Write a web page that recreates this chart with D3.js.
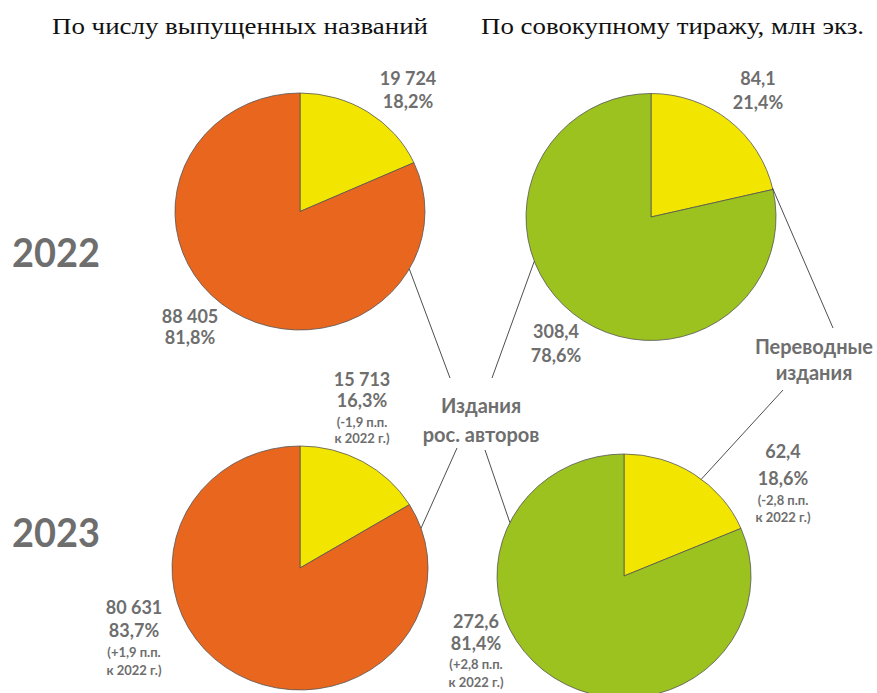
<!DOCTYPE html>
<html>
<head>
<meta charset="utf-8">
<script src="https://cdn.jsdelivr.net/npm/d3@7"></script>
<style>
  body { margin: 0; background: #fff; }
  svg { display: block; }
  .ttl { font-family: "Liberation Serif", "DejaVu Serif", serif; font-size: 24px; fill: #111; }
  .lbl { font-family: Lato, "Open Sans", sans-serif; font-weight: bold; fill: #6e6e6e; }
</style>
</head>
<body>
<script>
// data
const years = ["2022", "2023"];
const titlesRus = [88405, 80631];      // число названий, рос. авторы
const titlesTransl = [19724, 15713];   // число названий, переводные
const printRus = [308.4, 272.6];       // тираж, млн экз., рос. авторы
const printTransl = [84.1, 62.4];      // тираж, млн экз., переводные
const colTitles = ["По числу выпущенных названий", "По совокупному тиражу, млн экз."];
const catLabels = [["Издания", "рос. авторов"], ["Переводные", "издания"]];

init();

function init() {
  let width = 877, height = 693;

  let svg = d3.select("body")
              .append("svg")
              .attr("id", "chart")
              .attr("width", width)
              .attr("height", height);

  let fmtInt = (v) => d3.format(",")(v).replace(/,/g, " ");
  let fmtDec = (v) => d3.format(".1f")(v).replace(".", ",");
  let pct = (a, b) => Math.round(a / (a + b) * 1000) / 10;

  // pie geometry per panel [row][col]
  let geo = [
    [{cx: 300, cy: 211.5, rx: 125, ry: 118.5}, {cx: 651, cy: 217, rx: 125, ry: 123.5}],
    [{cx: 300, cy: 568, rx: 128, ry: 122}, {cx: 624, cy: 576, rx: 127, ry: 122}]
  ];
  let colors = [["#f2e500", "#e8661e"], ["#f2e500", "#9bc21e"]];

  let pie = d3.pie().sort(null).value(d => d);
  let arc = d3.arc().innerRadius(0).outerRadius(1);

  // point on pie edge for leader lines
  let edge = (g, deg) => {
    let a = deg * Math.PI / 180;
    return [g.cx + Math.sin(a) * g.rx, g.cy - Math.cos(a) * g.ry];
  };

  years.forEach((y, r) => {
    let sets = [[titlesTransl[r], titlesRus[r]], [printTransl[r], printRus[r]]];
    sets.forEach((vals, c) => {
      let g = geo[r][c];
      let gp = svg.append("g")
                  .attr("transform", `translate(${g.cx},${g.cy}) scale(${g.rx},${g.ry})`);
      gp.selectAll("path")
        .data(pie(vals))
        .enter()
        .append("path")
        .attr("d", arc)
        .attr("fill", (d, i) => colors[c][i])
        .attr("stroke", "#555")
        .attr("stroke-width", 0.8)
        .attr("vector-effect", "non-scaling-stroke");
    });
  });

  // leader lines: [row, col, angle on edge, end x, end y]
  let leaders = [
    [0, 0, 119, 450, 378],
    [0, 1, 249, 492, 378],
    [1, 0, 71, 457, 448],
    [1, 1, 296, 485, 450],
    [0, 1, 76.5, 833, 328],
    [1, 1, 37.5, 783, 390]
  ];
  svg.selectAll(".leader")
     .data(leaders)
     .enter()
     .append("line")
     .attr("class", "leader")
     .attr("x1", d => edge(geo[d[0]][d[1]], d[2])[0])
     .attr("y1", d => edge(geo[d[0]][d[1]], d[2])[1])
     .attr("x2", d => d[3])
     .attr("y2", d => d[4])
     .attr("stroke", "#3a3a3a")
     .attr("stroke-width", 0.9);

  // column titles
  svg.selectAll(".ttl")
     .data(colTitles)
     .enter()
     .append("text")
     .attr("class", "ttl")
     .attr("x", (d, i) => [52, 481][i])
     .attr("y", 34)
     .attr("textLength", (d, i) => [376, 383][i])
     .attr("lengthAdjust", "spacingAndGlyphs")
     .text(d => d);

  // year labels
  svg.selectAll(".year")
     .data(years)
     .enter()
     .append("text")
     .attr("class", "lbl year")
     .attr("x", 12)
     .attr("y", (d, i) => [267, 547][i])
     .attr("font-size", 40)
     .attr("textLength", 88)
     .attr("lengthAdjust", "spacingAndGlyphs")
     .text(d => d);

  // value labels
  let pTitles = years.map((y, i) => pct(titlesTransl[i], titlesRus[i]));
  let pPrint = years.map((y, i) => pct(printTransl[i], printRus[i]));
  let delta = (v) => (v > 0 ? "+" : "-") + fmtDec(Math.abs(v));

  let labels = [];
  // [x, baselines, lines]
  labels.push([408, [85, 108], [fmtInt(titlesTransl[0]), fmtDec(pTitles[0]) + "%"]]);
  labels.push([190, [323, 344], [fmtInt(titlesRus[0]), fmtDec(100 - pTitles[0]) + "%"]]);
  labels.push([758, [85, 109], [fmtDec(printTransl[0]), fmtDec(pPrint[0]) + "%"]]);
  labels.push([556, [338, 362], [fmtDec(printRus[0]), fmtDec(100 - pPrint[0]) + "%"]]);
  labels.push([362, [386, 407, 427, 443], [fmtInt(titlesTransl[1]), fmtDec(pTitles[1]) + "%",
    "(" + delta(pTitles[1] - pTitles[0]) + " п.п.", "к " + years[0] + " г.)"]]);
  labels.push([134, [614, 637, 657, 675], [fmtInt(titlesRus[1]), fmtDec(100 - pTitles[1]) + "%",
    "(" + delta(pTitles[0] - pTitles[1]) + " п.п.", "к " + years[0] + " г.)"]]);
  labels.push([783, [458, 485, 505, 522], [fmtDec(printTransl[1]), fmtDec(pPrint[1]) + "%",
    "(" + delta(pPrint[1] - pPrint[0]) + " п.п.", "к " + years[0] + " г.)"]]);
  labels.push([476, [628, 650, 669, 687], [fmtDec(printRus[1]), fmtDec(100 - pPrint[1]) + "%",
    "(" + delta(pPrint[0] - pPrint[1]) + " п.п.", "к " + years[0] + " г.)"]]);

  labels.forEach(l => {
    let t = svg.append("text")
               .attr("class", "lbl")
               .attr("text-anchor", "middle");
    l[2].forEach((s, i) => {
      t.append("tspan")
       .attr("x", l[0])
       .attr("y", l[1][i])
       .attr("font-size", i < 2 ? 18 : 13)
       .text(s);
    });
  });

  // category labels
  let cat = [[481, [413, 442]], [814, [354, 380]]];
  catLabels.forEach((lines, k) => {
    let t = svg.append("text")
               .attr("class", "lbl")
               .attr("text-anchor", "middle")
               .attr("font-size", 20);
    lines.forEach((s, i) => {
      t.append("tspan")
       .attr("x", cat[k][0])
       .attr("y", cat[k][1][i])
       .text(s);
    });
  });
}
</script>
</body>
</html>
